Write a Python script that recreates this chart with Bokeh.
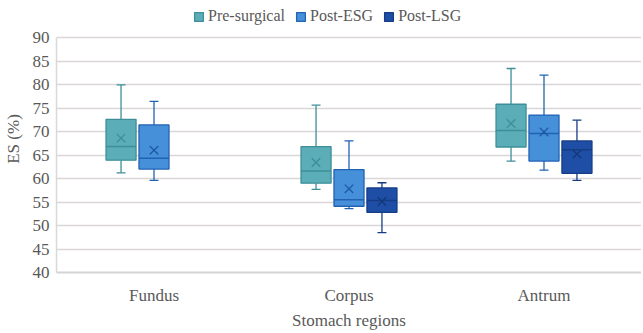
from bokeh.plotting import figure
from bokeh.models import ColumnDataSource, FactorRange, Range1d, Legend, LegendItem, FixedTicker
from bokeh.transform import dodge
from bokeh.embed import file_html
from bokeh.resources import INLINE

categories = ["Fundus", "Corpus", "Antrum"]
series_names = ["Pre-surgical", "Post-ESG", "Post-LSG"]

# Pre-surgical
pre_cat = ["Fundus", "Corpus", "Antrum"]
pre_lo = [61.2, 57.7, 63.7]
pre_q1 = [63.9, 59.0, 66.7]
pre_med = [66.8, 61.6, 70.2]
pre_q3 = [72.6, 66.8, 75.8]
pre_hi = [79.9, 75.6, 83.4]
pre_mean = [68.6, 63.4, 71.7]

# Post-ESG
esg_cat = ["Fundus", "Corpus", "Antrum"]
esg_lo = [59.6, 53.6, 61.8]
esg_q1 = [62.0, 54.1, 63.7]
esg_med = [64.3, 55.5, 69.6]
esg_q3 = [71.4, 61.9, 73.5]
esg_hi = [76.4, 68.0, 82.0]
esg_mean = [66.0, 57.8, 69.9]

# Post-LSG (no Fundus data)
lsg_cat = ["Corpus", "Antrum"]
lsg_lo = [48.5, 59.6]
lsg_q1 = [52.8, 61.1]
lsg_med = [55.3, 66.1]
lsg_q3 = [58.0, 68.0]
lsg_hi = [59.1, 72.4]
lsg_mean = [55.1, 65.2]

y_ticks = [40, 45, 50, 55, 60, 65, 70, 75, 80, 85, 90]
y_min, y_max = 40, 90

FONT = "'Liberation Serif', 'Times New Roman', serif"

# frame extends above the 90 line to host the legend
FRAME_H = 267
PX_PER_UNIT = 4.7
p = figure(x_range=FactorRange(*categories, range_padding=0),
           y_range=Range1d(y_min, y_min + FRAME_H / PX_PER_UNIT),
           frame_width=585, frame_height=FRAME_H, output_backend="svg", toolbar_location=None,
           min_border_left=50, min_border_right=0, min_border_bottom=40, min_border_top=5)

p.outline_line_color = None
p.background_fill_color = "white"
p.border_fill_color = "white"

p.xgrid.grid_line_color = None
p.ygrid.grid_line_color = "#DCD6D6"
p.ygrid.grid_line_width = 1.5
p.yaxis.ticker = FixedTicker(ticks=y_ticks)

for ax in (p.xaxis, p.yaxis):
    ax.major_tick_line_color = None
    ax.minor_tick_line_color = None
    ax.major_tick_out = 0
    ax.major_tick_in = 0
    ax.minor_tick_out = 0
    ax.major_label_text_font = FONT
    ax.major_label_text_font_size = "17px"
    ax.major_label_text_color = "#595959"
    ax.axis_label_text_font = FONT
    ax.axis_label_text_font_size = "17px"
    ax.axis_label_text_font_style = "normal"
    ax.axis_label_text_color = "#595959"

p.yaxis.bounds = (y_min, y_max)
p.yaxis.axis_line_color = "#D9D9D9"
p.yaxis.axis_line_width = 1.5
p.yaxis.major_label_standoff = 7
p.yaxis.axis_label = "ES (%)"
p.yaxis.axis_label_standoff = 7
p.xaxis.axis_line_color = "#D4D4D4"
p.xaxis.axis_line_width = 2
p.xaxis.major_label_standoff = 13
p.xaxis.axis_label = "Stomach regions"
p.xaxis.axis_label_standoff = 3

series = [
    (pre_cat, pre_lo, pre_q1, pre_med, pre_q3, pre_hi, pre_mean, -0.169, "#5BAEB7", "#3E8E98", "#3E8E98"),
    (esg_cat, esg_lo, esg_q1, esg_med, esg_q3, esg_hi, esg_mean, 0.0, "#4690DA", "#2262B3", "#1D58A6"),
    (lsg_cat, lsg_lo, lsg_q1, lsg_med, lsg_q3, lsg_hi, lsg_mean, 0.169, "#1E4EA5", "#163C85", "#143878"),
]

box_w = 0.154
cap_w = 0.046
legend_items = []
for name, (cat, lo, q1, med, q3, hi, mean, off, fill, line, mcol) in zip(series_names, series):
    src = ColumnDataSource(dict(cat=cat, lo=lo, q1=q1, med=med, q3=q3, hi=hi, mean=mean))
    x = dodge("cat", off, range=p.x_range)
    xl = dodge("cat", off - box_w / 2, range=p.x_range)
    xr = dodge("cat", off + box_w / 2, range=p.x_range)
    cl = dodge("cat", off - cap_w / 2, range=p.x_range)
    cr = dodge("cat", off + cap_w / 2, range=p.x_range)
    # whiskers
    p.segment(x0=x, y0="q3", x1=x, y1="hi", source=src, line_color=line, line_width=1.3)
    p.segment(x0=x, y0="lo", x1=x, y1="q1", source=src, line_color=line, line_width=1.3)
    p.segment(x0=cl, y0="hi", x1=cr, y1="hi", source=src, line_color=line, line_width=1.3)
    p.segment(x0=cl, y0="lo", x1=cr, y1="lo", source=src, line_color=line, line_width=1.3)
    # box
    r = p.vbar(x=x, bottom="q1", top="q3", width=box_w, source=src,
               fill_color=fill, line_color=line, line_width=1.3)
    # median
    p.segment(x0=xl, y0="med", x1=xr, y1="med", source=src, line_color=line, line_width=1.5)
    # mean
    p.scatter(x=x, y="mean", source=src, marker="x", size=12, line_color=mcol, line_width=1.3)
    legend_items.append(LegendItem(label=name, renderers=[r]))

legend = Legend(items=legend_items, orientation="horizontal", location=(137, 247),
                label_text_font=FONT, label_text_font_size="16px", label_text_color="#595959",
                glyph_width=11, glyph_height=11, spacing=10, label_standoff=4,
                padding=2, margin=0, border_line_color=None, background_fill_alpha=0)
p.add_layout(legend)

open("out.html", "w").write(file_html(p, INLINE))
